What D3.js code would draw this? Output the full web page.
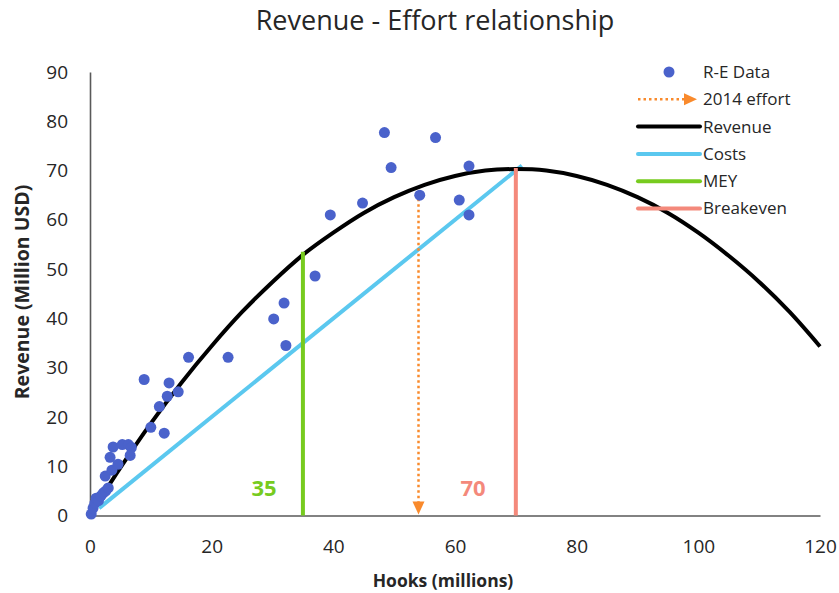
<!DOCTYPE html>
<html>
<head>
<meta charset="utf-8">
<script src="https://cdn.jsdelivr.net/npm/d3@7"></script>
<style>
  html, body { margin: 0; padding: 0; background: #fff; }
  svg { display: block; }
  text { font-family: "Open Sans", "Noto Sans", sans-serif; fill: #262626; }
</style>
</head>
<body>
<svg id="chart" width="839" height="593"></svg>
<script>
// ---- Data ----
const dataHooks = [0.2, 0.5, 0.8, 1.0, 1.4, 1.8, 2.2, 2.6, 3.0, 2.5, 3.6, 3.3, 3.8, 5.3, 6.3, 6.8, 6.6, 4.6,
                   8.9, 10.0, 11.4, 12.2, 12.7, 13.0, 14.5, 16.2, 22.7,
                   30.2, 31.9, 32.2, 37.0, 39.5, 44.8, 48.4, 49.5, 54.2, 56.8, 60.7, 62.3, 62.3];
const dataRevenue = [0.3, 1.5, 2.5, 3.5, 3.0, 4.0, 4.6, 5.0, 5.6, 8.0, 9.2, 11.8, 13.9, 14.4, 14.4, 13.8, 12.2, 10.4,
                     27.6, 17.9, 22.1, 16.7, 24.2, 26.9, 25.1, 32.1, 32.1,
                     39.9, 43.1, 34.5, 48.6, 61.0, 63.4, 77.7, 70.6, 65.0, 76.7, 64.0, 70.9, 61.0];

const curveHooks   = [1, 5, 10, 15, 20, 25, 30, 35, 40, 45, 50, 55, 60, 65, 70, 75, 80, 85, 90, 95, 100, 105, 110, 115, 120];
const curveRevenue = [2.0, 9.7, 18.7, 26.9, 34.4, 41.3, 47.4, 52.9, 57.4, 61.4, 64.6, 67.1, 68.9, 70.0, 70.3, 70.0, 68.9, 67.1, 64.6, 61.4, 57.4, 52.7, 47.4, 41.3, 34.3];

const costHooks   = [1.5, 71];
const costRevenue = [1.5, 71];

const meyHooks = 35, meyTop = 53.5;
const breakevenHooks = 70, breakevenTop = 70.5;
const effortHooks = 54, effortTop = 64.3;

const xTicks = [0, 20, 40, 60, 80, 100, 120];
const yTicks = [0, 10, 20, 30, 40, 50, 60, 70, 80, 90];

const legendLabels = ["R-E Data", "2014 effort", "Revenue", "Costs", "MEY", "Breakeven"];

// ---- Styles ----
const C = { pts: "#4A62CB", rev: "#000000", cost: "#5BC8EF", mey: "#77CB1F", be: "#F4897B", eff: "#F98A2C", axis: "#595959" };

const svg = d3.select("#chart");
const x = d3.scaleLinear().domain([0, 120]).range([90, 820]);
const y = d3.scaleLinear().domain([0, 90]).range([515.5, 72]);

// Title
svg.append("text").attr("x", 435).attr("y", 30).attr("text-anchor", "middle")
  .style("font-size", "27px").style("fill", "#262626").text("Revenue - Effort relationship");

// Axes
const xAxis = d3.axisBottom(x).tickValues(xTicks).tickSize(0).tickPadding(24);
const yAxis = d3.axisLeft(y).tickValues(yTicks).tickSize(0).tickPadding(22);
const gx = svg.append("g").attr("transform", `translate(0,${y(0)})`).call(xAxis);
const gy = svg.append("g").attr("transform", `translate(${x(0)},0)`).call(yAxis);
[gx, gy].forEach(g => {
  g.select(".domain").attr("stroke", C.axis).attr("stroke-width", 1.6);
  g.selectAll("text").style("font-size", "19px").style("fill", "#262626").style("font-family", "\"Open Sans\", sans-serif");
});

// Axis titles
svg.append("text").attr("x", 443).attr("y", 587).attr("text-anchor", "middle")
  .style("font-size", "17.5px").style("font-weight", "bold").text("Hooks (millions)");
svg.append("text").attr("transform", "translate(29,292) rotate(-90)").attr("text-anchor", "middle")
  .style("font-size", "19.5px").style("font-weight", "bold").text("Revenue (Million USD)");

// Costs line
const line = d3.line().x(d => x(d[0])).y(d => y(d[1]));
svg.append("path").datum(d3.zip(costHooks, costRevenue)).attr("d", line)
  .attr("fill", "none").attr("stroke", C.cost).attr("stroke-width", 4);

// Revenue curve
svg.append("path").datum(d3.zip(curveHooks, curveRevenue)).attr("d", line.curve(d3.curveCatmullRom))
  .attr("fill", "none").attr("stroke", C.rev).attr("stroke-width", 4);

// MEY & Breakeven
svg.append("line").attr("x1", x(meyHooks)).attr("x2", x(meyHooks)).attr("y1", y(0)).attr("y2", y(meyTop))
  .attr("stroke", C.mey).attr("stroke-width", 4);
svg.append("line").attr("x1", x(breakevenHooks)).attr("x2", x(breakevenHooks)).attr("y1", y(0)).attr("y2", y(breakevenTop))
  .attr("stroke", C.be).attr("stroke-width", 4);

// 2014 effort arrow
svg.append("line").attr("x1", x(effortHooks)).attr("x2", x(effortHooks)).attr("y1", y(effortTop)).attr("y2", y(0) - 12)
  .attr("stroke", C.eff).attr("stroke-width", 2.5).attr("stroke-dasharray", "2.5,3");
svg.append("path")
  .attr("d", `M${x(effortHooks) - 6},${y(0) - 14} L${x(effortHooks) + 6},${y(0) - 14} L${x(effortHooks)},${y(0) - 1} Z`)
  .attr("fill", C.eff);

// Data points
svg.append("g").selectAll("circle").data(d3.zip(dataHooks, dataRevenue)).join("circle")
  .attr("cx", d => x(d[0])).attr("cy", d => y(d[1])).attr("r", 5.5).attr("fill", C.pts);

// Value labels
svg.append("text").attr("x", 264).attr("y", 496).attr("text-anchor", "middle")
  .style("font-size", "22px").style("font-weight", "bold").style("fill", C.mey).text("35");
svg.append("text").attr("x", 473).attr("y", 496).attr("text-anchor", "middle")
  .style("font-size", "22px").style("font-weight", "bold").style("fill", C.be).text("70");

// Legend
const lg = svg.append("g");
const ly0 = 72, ldy = 27.3, lx1 = 638, lx2 = 700, ltx = 703;
legendLabels.forEach((lab, i) => {
  const yy = ly0 + i * ldy;
  if (i === 0) {
    lg.append("circle").attr("cx", 669).attr("cy", yy).attr("r", 5.5).attr("fill", C.pts);
  } else if (i === 1) {
    lg.append("line").attr("x1", lx1).attr("x2", 684).attr("y1", yy).attr("y2", yy)
      .attr("stroke", C.eff).attr("stroke-width", 2.5).attr("stroke-dasharray", "2.5,3");
    lg.append("path").attr("d", `M684,${yy - 6} L697,${yy} L684,${yy + 6} Z`).attr("fill", C.eff);
  } else {
    const col = [null, null, C.rev, C.cost, C.mey, C.be][i];
    lg.append("line").attr("x1", lx1).attr("x2", lx2).attr("y1", yy).attr("y2", yy)
      .attr("stroke", col).attr("stroke-width", 4).attr("stroke-linecap", "round");
  }
  lg.append("text").attr("x", ltx).attr("y", yy).attr("dy", "0.35em")
    .style("font-size", "17px").text(lab);
});
</script>
</body>
</html>
